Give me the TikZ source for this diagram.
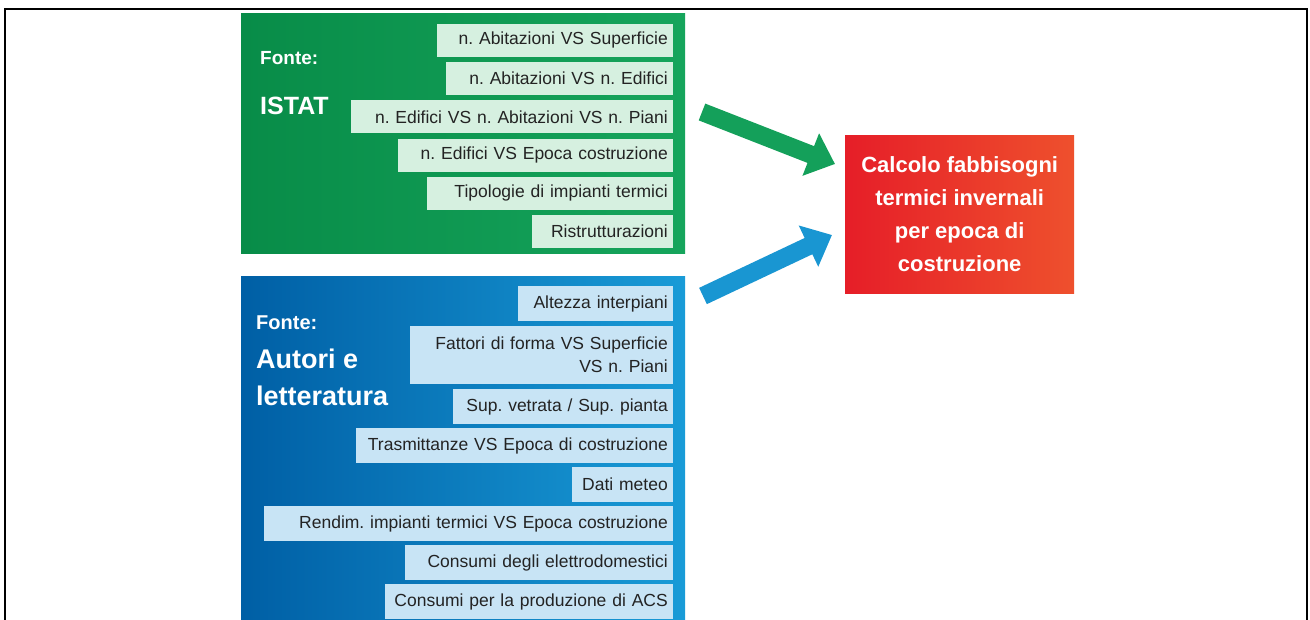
\documentclass[tikz,border=0pt]{standalone}
\usepackage{fontspec}
\setmainfont{Liberation Sans}
\usetikzlibrary{arrows.meta}
\definecolor{gdark}{RGB}{8,140,72}
\definecolor{glight}{RGB}{22,165,92}
\definecolor{bdark}{RGB}{0,95,165}
\definecolor{blight}{RGB}{25,155,215}
\definecolor{gbfill}{RGB}{214,240,224}
\definecolor{bbfill}{RGB}{200,228,245}
\definecolor{rleft}{RGB}{230,30,40}
\definecolor{rright}{RGB}{238,80,45}
\definecolor{garrowc}{RGB}{20,160,90}
\definecolor{barrowc}{RGB}{25,150,210}
\definecolor{boxtext}{RGB}{35,35,35}
\newcommand\rline[1]{\makebox[\hsize][r]{#1}}
\begin{document}
\begin{tikzpicture}[x=1pt,y=-1pt,
  panel/.style={anchor=north west, inner sep=0pt, draw=none},
  itembox/.style={anchor=north east, inner xsep=5pt, inner ysep=0pt, align=right,
     font=\fontsize{17.5}{23}\selectfont\frenchspacing, text=boxtext},
  gbox/.style={itembox, fill=gbfill},
  bbox/.style={itembox, fill=bbfill},
  srclabel/.style={anchor=west, inner sep=0pt, text=white, align=left},
  fatarrow/.style={line width=18pt, -{Triangle[length=26pt,width=44pt]}}
]
\useasboundingbox (0,0) rectangle (1310,620);
\fill[white] (0,0) rectangle (1310,620);
% frame
\draw[line width=2.5pt] (5,620) -- (5,9) -- (1307,9) -- (1307,620);

% green panel
\node[panel, left color=gdark, right color=glight, minimum width=444pt, minimum height=240pt] (gp) at (241,13) {};
\node[srclabel, font=\bfseries\fontsize{19}{22}\selectfont] (gf) at (260,58) {Fonte:};
\node[srclabel, font=\bfseries\fontsize{25}{28}\selectfont] (gi) at (260,106) {ISTAT};

\node[gbox, text width=226pt, minimum height=33pt] (g1) at (673,23.5) {\rline{n. Abitazioni VS Superficie}};
\node[gbox, text width=217pt, minimum height=33pt] (g2) at (673,61.8) {\rline{n. Abitazioni VS n. Edifici}};
\node[gbox, text width=312pt, minimum height=33pt] (g3) at (673,100.1) {\rline{n. Edifici VS n. Abitazioni VS n. Piani}};
\node[gbox, text width=265pt, minimum height=33pt] (g4) at (673,138.4) {\rline{n. Edifici VS Epoca costruzione}};
\node[gbox, text width=236pt, minimum height=33pt] (g5) at (673,176.7) {\rline{Tipologie di impianti termici}};
\node[gbox, text width=131pt, minimum height=33pt] (g6) at (673,215) {\rline{Ristrutturazioni}};

% blue panel
\node[panel, left color=bdark, right color=blight, minimum width=444pt, minimum height=344pt] (bp) at (241,276) {};
\node[srclabel, font=\bfseries\fontsize{20}{22}\selectfont] (bf) at (256,323) {Fonte:};
\node[srclabel, font=\bfseries\fontsize{27}{37}\selectfont] (ba) at (256,377.5) {Autori e\\letteratura};

\node[bbox, text width=145pt, minimum height=35pt] (b1) at (673,286) {\rline{Altezza interpiani}};
\node[bbox, text width=253pt, minimum height=58pt] (b2) at (673,325.5) {\rline{Fattori di forma VS Superficie}\\\rline{VS n. Piani}};
\node[bbox, text width=210pt, minimum height=35pt] (b3) at (673,389) {\rline{Sup. vetrata / Sup. pianta}};
\node[bbox, text width=307pt, minimum height=35pt] (b4) at (673,428) {\rline{Trasmittanze VS Epoca di costruzione}};
\node[bbox, text width=91pt, minimum height=35pt] (b5) at (673,467) {\rline{Dati meteo}};
\node[bbox, text width=399pt, minimum height=35pt] (b6) at (673,506) {\rline{Rendim. impianti termici VS Epoca costruzione}};
\node[bbox, text width=258pt, minimum height=35pt] (b7) at (673,545) {\rline{Consumi degli elettrodomestici}};
\node[bbox, text width=278pt, minimum height=35pt] (b8) at (673,584) {\rline{Consumi per la produzione di ACS}};

% red result box
\node[anchor=north west, inner sep=0pt, left color=rleft, right color=rright,
      minimum width=229pt, minimum height=158pt] (rb) at (845,135) {};
\node[text=white, align=center, font=\bfseries\fontsize{22}{33}\selectfont, inner sep=0pt] (rt) at (rb.center)
  {Calcolo fabbisogni\\termici invernali\\per epoca di\\costruzione};

% arrows
\coordinate (gtail) at (702,112);
\coordinate (gtip) at (835,164);
\coordinate (btail) at (703,296);
\coordinate (btip) at (832,235);
\draw[fatarrow, garrowc] (gtail) -- (gtip);
\draw[fatarrow, barrowc] (btail) -- (btip);
\end{tikzpicture}
\end{document}
